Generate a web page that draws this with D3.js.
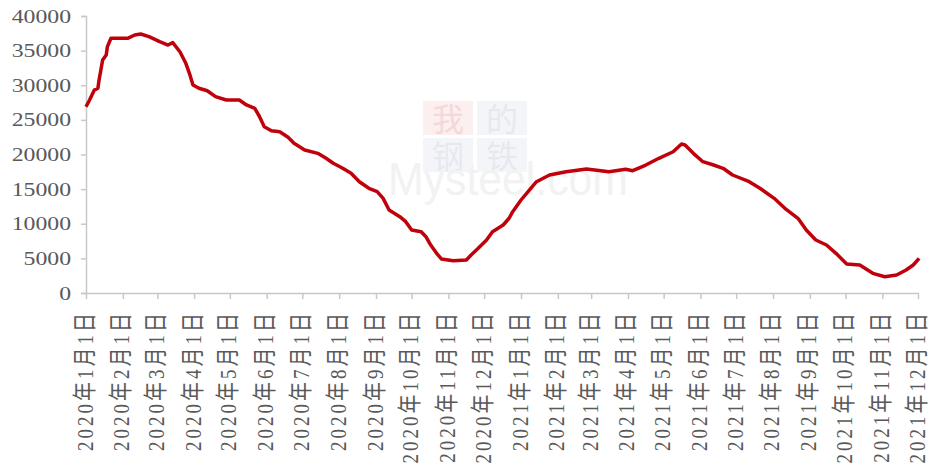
<!DOCTYPE html>
<html>
<head>
<meta charset="utf-8">
<script src="https://cdn.jsdelivr.net/npm/d3@7"></script>
<style>
body { margin: 0; background: #fff; }
svg { display: block; }
</style>
</head>
<body>
<div id="chart"></div>
<script>
// dates and values
var dates = ["2020-01-01","2020-01-04","2020-01-08","2020-01-11","2020-01-12","2020-01-15","2020-01-18","2020-01-19","2020-01-22",
  "2020-02-05","2020-02-11","2020-02-16","2020-02-23","2020-03-03","2020-03-10","2020-03-14","2020-03-20","2020-03-25","2020-03-28","2020-03-31",
  "2020-04-05","2020-04-12","2020-04-19","2020-04-28","2020-05-09","2020-05-15","2020-05-22","2020-05-26","2020-05-30",
  "2020-06-05","2020-06-12","2020-06-19","2020-06-24","2020-07-03","2020-07-14","2020-07-21","2020-07-27",
  "2020-08-04","2020-08-11","2020-08-18","2020-08-26","2020-09-02","2020-09-07","2020-09-12","2020-09-21","2020-09-26",
  "2020-10-01","2020-10-09","2020-10-13","2020-10-17","2020-10-22","2020-10-26","2020-11-05","2020-11-16","2020-11-20","2020-11-26",
  "2020-12-03","2020-12-08","2020-12-17","2020-12-22","2020-12-25",
  "2021-01-01","2021-01-08","2021-01-14","2021-01-25","2021-02-08","2021-02-25","2021-03-16","2021-03-30",
  "2021-04-05","2021-04-16","2021-04-27","2021-05-09","2021-05-16","2021-05-19","2021-05-26",
  "2021-06-03","2021-06-12","2021-06-20","2021-06-28","2021-07-12","2021-07-21","2021-08-02","2021-08-11","2021-08-22","2021-08-29",
  "2021-09-06","2021-09-15","2021-09-23","2021-10-02","2021-10-13","2021-10-24","2021-11-03","2021-11-13","2021-11-21","2021-11-27","2021-12-02"];
var values = [26900,27870,29300,29560,30760,33650,34370,35570,36780,
  36780,37260,37400,37020,36290,35810,36150,34840,33170,31720,30040,
  29560,29210,28350,27870,27870,27150,26670,25460,24010,
  23440,23290,22480,21620,20650,20170,19450,18730,
  18010,17290,16070,15120,14630,13670,11990,11020,10300,
  9100,8850,8130,6930,5730,4910,4660,4770,5490,6450,
  7650,8850,9820,10790,11740,
  13430,14870,16070,17040,17520,17900,17520,17860,
  17660,18480,19450,20400,21520,21370,20170,
  18960,18480,18010,17040,16070,15120,13670,12230,10790,9100,
  7650,6930,5730,4190,4040,2840,2350,2600,3320,4040,5010];
var yTicks = [0,5000,10000,15000,20000,25000,30000,35000,40000];
var monthTicks = ["2020-01-01","2020-02-01","2020-03-01","2020-04-01","2020-05-01","2020-06-01","2020-07-01","2020-08-01",
  "2020-09-01","2020-10-01","2020-11-01","2020-12-01","2021-01-01","2021-02-01","2021-03-01","2021-04-01","2021-05-01",
  "2021-06-01","2021-07-01","2021-08-01","2021-09-01","2021-10-01","2021-11-01","2021-12-01"];

var parse = d3.timeParse("%Y-%m-%d");
var width = 933, height = 465;
var plotLeft = 86, plotRight = 918, plotTop = 16, plotBottom = 293;
var textColor = "#595959", axisColor = "#c8c8c8", sx = 1.25;

var svg = d3.select("#chart").append("svg")
  .attr("width", width)
  .attr("height", height);

var x = d3.scaleTime().domain([parse("2020-01-01"), parse("2021-12-01")]).range([plotLeft, plotRight]);
var y = d3.scaleLinear().domain([0, 40000]).range([plotBottom, plotTop]);

// faint watermark
var wm = svg.append("g").attr("opacity", 0.4);
var boxes = [["我", 423, 101, "#f7d9d9", "#e8a0a0"], ["的", 477, 101, "#e6e8f0", "#c4c8d8"],
  ["钢", 423, 138, "#e6e8f0", "#c4c8d8"], ["铁", 477, 138, "#e6e8f0", "#c4c8d8"]];
boxes.forEach(function (b) {
  wm.append("rect").attr("x", b[1]).attr("y", b[2]).attr("width", 50).attr("height", 34).attr("fill", b[3]);
  wm.append("text").attr("x", b[1] + 25).attr("y", b[2] + 30).attr("text-anchor", "middle")
    .attr("font-family", "Noto Sans CJK SC").attr("font-size", 32).attr("fill", b[4]).text(b[0]);
});
wm.append("text").attr("x", 388).attr("y", 195)
  .attr("font-family", "Liberation Sans, sans-serif").attr("font-size", 46)
  .attr("textLength", 240).attr("lengthAdjust", "spacingAndGlyphs")
  .attr("fill", "#e0e0e0").text("Mysteel.com");

// y axis
var yAxis = svg.append("g").attr("transform", "translate(" + plotLeft + ",0)")
  .call(d3.axisLeft(y).tickValues(yTicks).tickSize(5).tickPadding(0).tickFormat(d3.format("d")));
yAxis.select(".domain").attr("stroke", axisColor).attr("stroke-width", 1.5);
yAxis.selectAll(".tick line").attr("stroke", axisColor).attr("stroke-width", 1.5);
yAxis.selectAll(".tick text")
  .attr("x", null).attr("dy", null)
  .attr("transform", "translate(-15,6) scale(" + sx + ",1)")
  .attr("font-family", "Liberation Serif, serif").attr("font-size", 19)
  .attr("fill", textColor);

// x axis
var xAxis = svg.append("g").attr("transform", "translate(0," + plotBottom + ")")
  .call(d3.axisBottom(x).tickValues(monthTicks.map(parse)).tickSize(6).tickSizeOuter(0)
    .tickFormat(d3.timeFormat("%Y年%-m月%-d日")));
xAxis.select(".domain").attr("stroke", axisColor).attr("stroke-width", 1.5);
xAxis.selectAll(".tick line").attr("stroke", axisColor).attr("stroke-width", 1.5);
xAxis.selectAll(".tick text")
  .attr("y", null).attr("dy", null)
  .attr("text-anchor", "end")
  .attr("transform", "translate(6,17) scale(" + sx + ",1) rotate(-90)")
  .attr("font-family", "Liberation Serif, Noto Sans CJK SC, serif").attr("font-size", 19)
  .attr("letter-spacing", "3px")
  .attr("fill", textColor);

// series line
var line = d3.line()
  .x(function (d, i) { return x(parse(dates[i])); })
  .y(function (d) { return y(d); });

svg.append("path")
  .datum(values)
  .attr("fill", "none")
  .attr("stroke", "#c0000b")
  .attr("stroke-width", 3.5)
  .attr("stroke-linejoin", "round")
  .attr("d", line);
</script>
</body>
</html>
